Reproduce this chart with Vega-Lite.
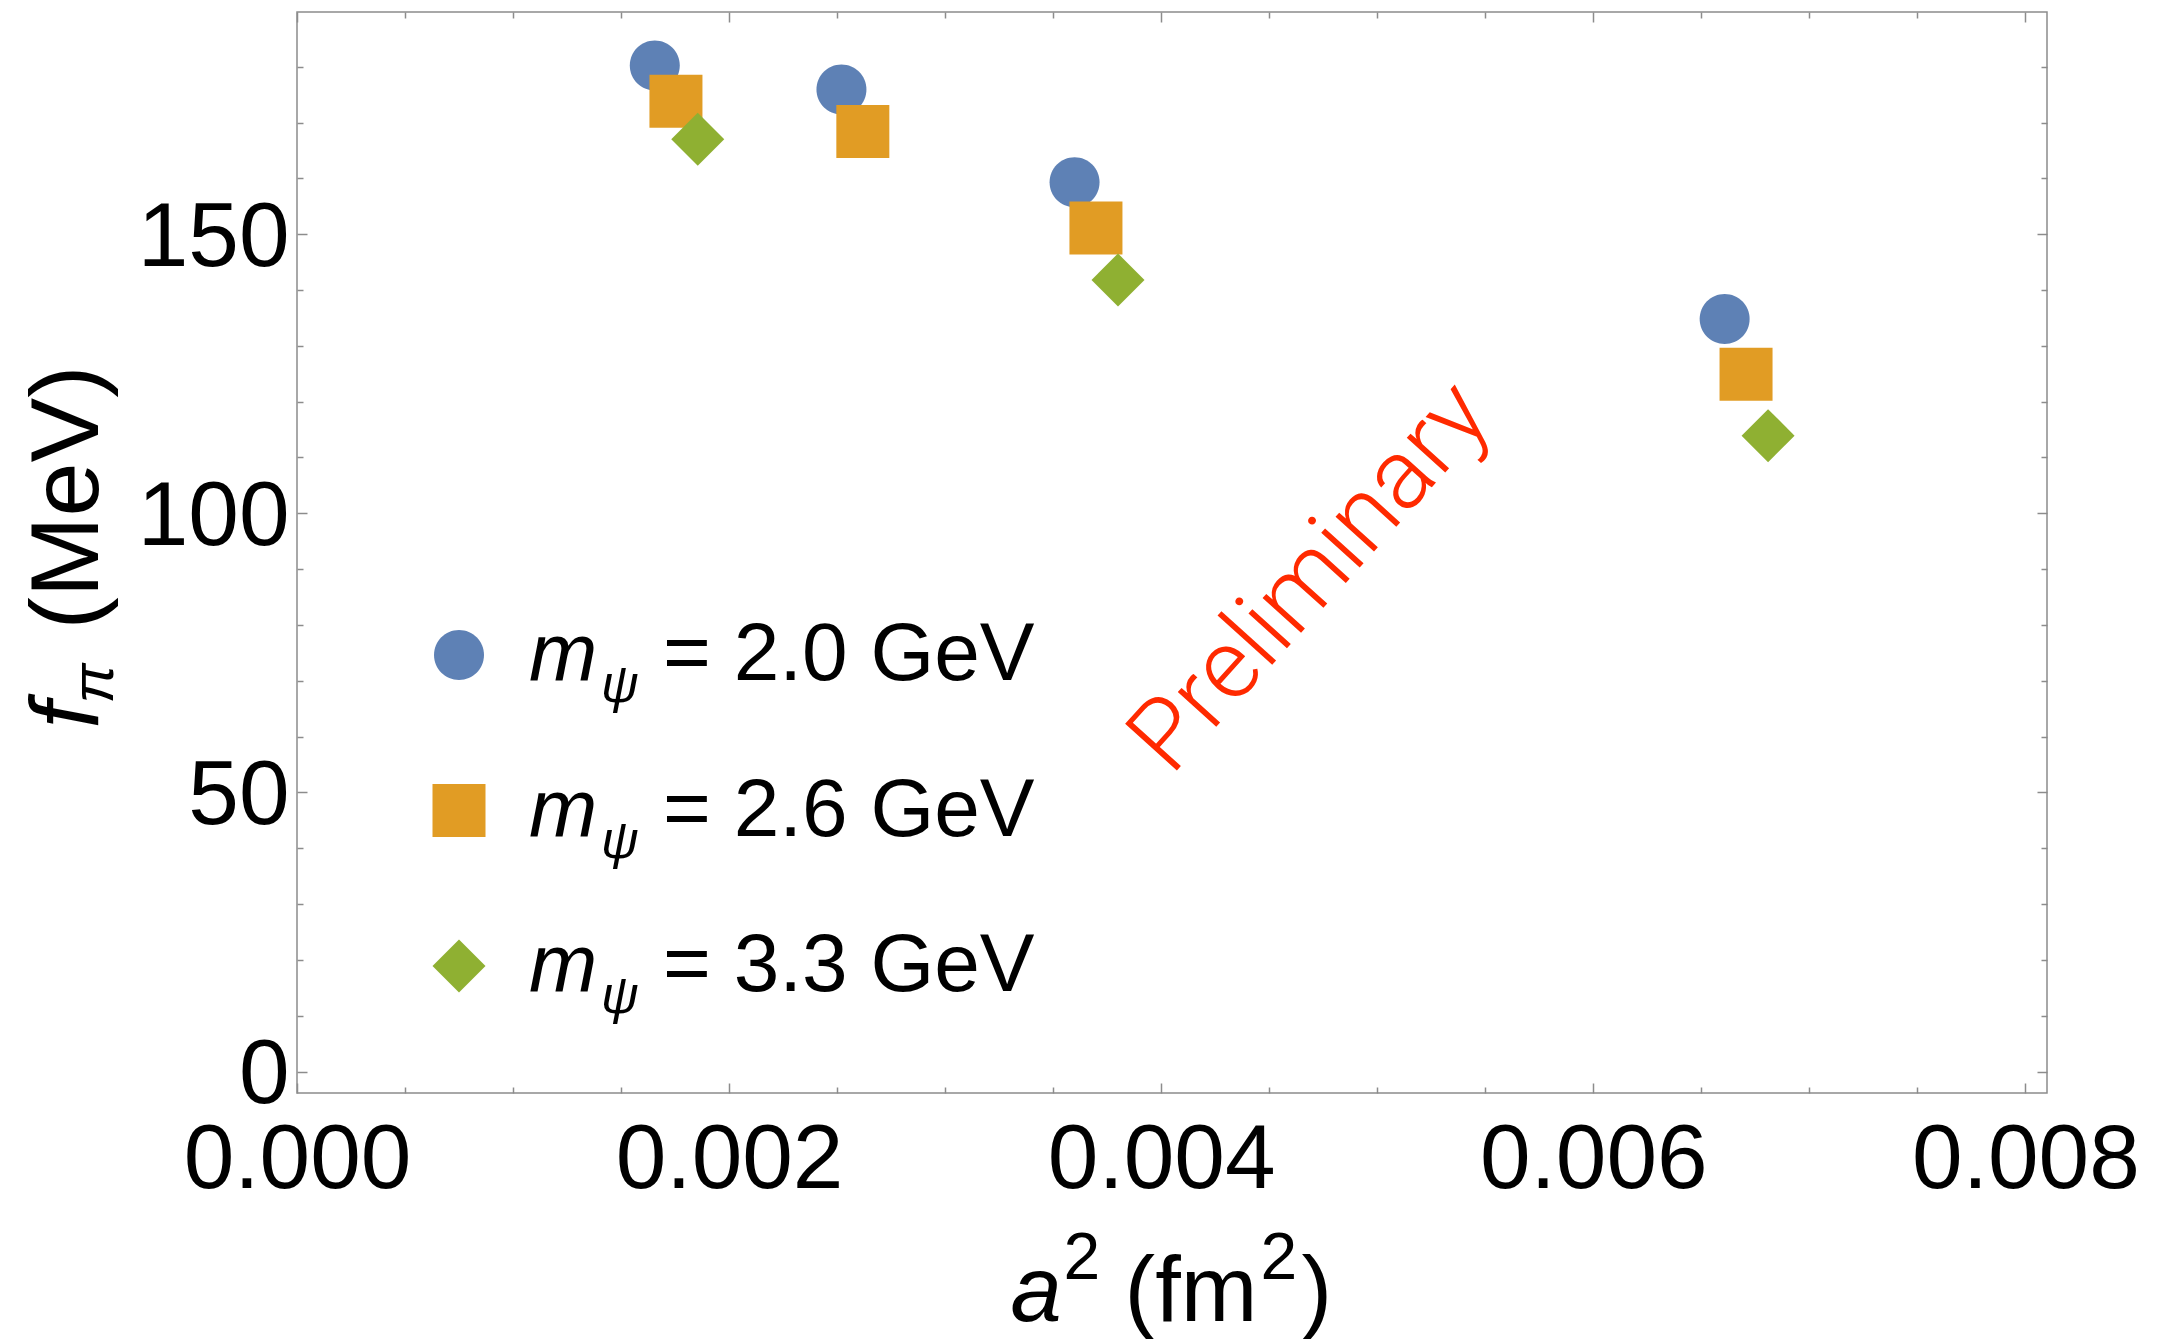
{
  "$schema": "https://vega.github.io/schema/vega-lite/v6.json",
  "width": 1750,
  "height": 1081,
  "autosize": {"type": "none"},
  "padding": {"left": 297, "top": 12, "right": 113, "bottom": 246},
  "background": "white",
  "config": {
    "font": "Liberation Sans",
    "view": {"stroke": "#8c8c8c", "strokeWidth": 1.5},
    "axis": {"grid": false, "domain": false, "tickColor": "#8c8c8c", "tickWidth": 1.5, "labelFont": "Liberation Sans", "labelColor": "#000000", "titleFont": "Liberation Sans", "titleColor": "#000000", "titleFontWeight": "normal", "labelOverlap": false, "labelFlush": false, "labelBound": false, "labelLimit": 0, "titleLimit": 0},
    "legend": {"padding": 0, "offset": 0, "labelFont": "Liberation Sans", "labelColor": "#000000", "labelLimit": 0}
  },
  "data": {"values": [
    {"a2": 0.001656, "fpi": 180.2, "m": "2.0"},
    {"a2": 0.002520, "fpi": 175.9, "m": "2.0"},
    {"a2": 0.003599, "fpi": 159.3, "m": "2.0"},
    {"a2": 0.006608, "fpi": 134.8, "m": "2.0"},
    {"a2": 0.001754, "fpi": 173.8, "m": "2.6"},
    {"a2": 0.002619, "fpi": 168.4, "m": "2.6"},
    {"a2": 0.003698, "fpi": 151.1, "m": "2.6"},
    {"a2": 0.006707, "fpi": 124.9, "m": "2.6"},
    {"a2": 0.001855, "fpi": 167.0, "m": "3.3"},
    {"a2": 0.003800, "fpi": 141.8, "m": "3.3"},
    {"a2": 0.006809, "fpi": 113.9, "m": "3.3"}
  ]},
  "resolve": {"axis": {"x": "independent", "y": "independent"}},
  "layer": [
    {
      "mark": {"type": "point", "filled": true, "opacity": 1, "size": 2809, "strokeWidth": 0},
      "encoding": {
        "x": {"field": "a2", "type": "quantitative", "scale": {"domain": [0, 0.0081], "nice": false, "zero": false},
          "axis": {"orient": "bottom", "values": [0, 0.0005, 0.001, 0.0015, 0.002, 0.0025, 0.003, 0.0035, 0.004, 0.0045, 0.005, 0.0055, 0.006, 0.0065, 0.007, 0.0075, 0.008],
            "tickSize": {"condition": {"test": "abs(datum.value*500 - round(datum.value*500)) < 0.001", "value": -10}, "value": -6},
            "labelExpr": "abs(datum.value*500 - round(datum.value*500)) < 0.001 ? format(datum.value, '.3f') : ''",
            "labelFontSize": 91, "labelPadding": 32,
            "title": "a", "titleFontStyle": "italic", "titleFontSize": 92, "titleX": 713, "titleY": 227, "titleAlign": "left", "titleBaseline": "alphabetic", "titleAngle": 0}},
        "y": {"field": "fpi", "type": "quantitative", "scale": {"domain": [-3.85, 189.8], "nice": false, "zero": false},
          "axis": {"orient": "left", "values": [0, 10, 20, 30, 40, 50, 60, 70, 80, 90, 100, 110, 120, 130, 140, 150, 160, 170, 180],
            "tickSize": {"condition": {"test": "datum.value % 50 === 0", "value": -10}, "value": -6},
            "labelExpr": "datum.value % 50 === 0 ? datum.label : ''",
            "labelFontSize": 91, "labelPadding": 18, "labelOffset": 4,
            "title": "f", "titleFontStyle": "italic", "titleFontSize": 96, "titleAngle": -90, "titleX": -200, "titleY": 716, "titleAlign": "left", "titleBaseline": "alphabetic"}},
        "color": {"field": "m", "type": "nominal", "scale": {"range": ["#5E81B5", "#E19C24", "#8FB032"]},
          "legend": {"orient": "none", "legendX": 121, "legendY": 602, "title": null, "labelExpr": "'= ' + datum.label + ' GeV'", "labelFontSize": 82, "labelOffset": 163, "rowPadding": 73.5, "symbolSize": 2809, "symbolStrokeWidth": 0, "padding": 0}},
        "shape": {"field": "m", "type": "nominal", "scale": {"range": ["M0.943,0A0.943,0.943,0,1,1,-0.943,0A0.943,0.943,0,1,1,0.943,0Z", "square", "diamond"]},
          "legend": {"orient": "none", "legendX": 121, "legendY": 602, "title": null, "labelExpr": "'= ' + datum.label + ' GeV'", "labelFontSize": 82, "labelOffset": 163, "rowPadding": 73.5, "symbolSize": 2809, "symbolStrokeWidth": 0, "padding": 0}}
      }
    },
    {
      "mark": {"type": "point", "opacity": 0},
      "encoding": {
        "x": {"field": "a2", "type": "quantitative",
          "axis": {"orient": "top", "values": [0, 0.0005, 0.001, 0.0015, 0.002, 0.0025, 0.003, 0.0035, 0.004, 0.0045, 0.005, 0.0055, 0.006, 0.0065, 0.007, 0.0075, 0.008],
            "tickSize": {"condition": {"test": "abs(datum.value*500 - round(datum.value*500)) < 0.001", "value": -10}, "value": -6},
            "labels": false, "title": null}},
        "y": {"field": "fpi", "type": "quantitative",
          "axis": {"orient": "right", "values": [0, 10, 20, 30, 40, 50, 60, 70, 80, 90, 100, 110, 120, 130, 140, 150, 160, 170, 180],
            "tickSize": {"condition": {"test": "datum.value % 50 === 0", "value": -10}, "value": -6},
            "labels": false, "title": null}}
      }
    },
    {
      "mark": {"type": "point", "opacity": 0},
      "encoding": {
        "x": {"field": "a2", "type": "quantitative",
          "axis": {"orient": "bottom", "ticks": false, "labels": false, "title": "2", "titleFontSize": 66, "titleX": 766, "titleY": 185, "titleAlign": "left", "titleBaseline": "alphabetic", "titleAngle": 0}},
        "y": {"field": "fpi", "type": "quantitative",
          "axis": {"orient": "left", "ticks": false, "labels": false, "title": "π", "titleFontStyle": "italic", "titleFontSize": 60, "titleAngle": -90, "titleX": -185, "titleY": 691, "titleAlign": "left", "titleBaseline": "alphabetic"}},
        "strokeDash": {"field": "m", "type": "nominal", "scale": {"domain": ["2.0", "2.6", "3.3"], "range": [[1, 0], [1, 0], [1, 0]]},
          "legend": {"orient": "none", "legendX": 150, "legendY": 602, "title": null, "labelExpr": "'m'", "labelFontSize": 82, "labelFontStyle": "italic", "labelOffset": 0, "rowPadding": 73.5, "symbolSize": 1, "symbolOpacity": 0, "padding": 0}}
      }
    },
    {
      "mark": {"type": "point", "opacity": 0},
      "encoding": {
        "x": {"field": "a2", "type": "quantitative",
          "axis": {"orient": "bottom", "ticks": false, "labels": false, "title": "(fm", "titleFontSize": 92, "titleX": 827, "titleY": 227, "titleAlign": "left", "titleBaseline": "alphabetic", "titleAngle": 0}},
        "y": {"field": "fpi", "type": "quantitative",
          "axis": {"orient": "left", "ticks": false, "labels": false, "title": "(MeV)", "titleFontSize": 97, "titleAngle": -90, "titleX": -200, "titleY": 617, "titleAlign": "left", "titleBaseline": "alphabetic"}},
        "stroke": {"field": "m", "type": "nominal", "sort": {"field": "fpi", "op": "max", "order": "descending"}, "scale": {"range": ["#ffffff", "#ffffff", "#ffffff"]},
          "legend": {"orient": "none", "legendX": 252, "legendY": 648, "title": null, "labelExpr": "'ψ'", "labelFontSize": 52, "labelFontStyle": "italic", "labelOffset": 0, "rowPadding": 103.5, "symbolSize": 1, "symbolOpacity": 0, "padding": 0}}
      }
    },
    {
      "mark": {"type": "point", "opacity": 0},
      "encoding": {
        "x": {"field": "a2", "type": "quantitative",
          "axis": {"orient": "bottom", "ticks": false, "labels": false, "title": "2", "titleFontSize": 66, "titleX": 963, "titleY": 185, "titleAlign": "left", "titleBaseline": "alphabetic", "titleAngle": 0}},
        "y": {"field": "fpi", "type": "quantitative", "axis": null}
      }
    },
    {
      "mark": {"type": "point", "opacity": 0},
      "encoding": {
        "x": {"field": "a2", "type": "quantitative",
          "axis": {"orient": "bottom", "ticks": false, "labels": false, "title": ")", "titleFontSize": 92, "titleX": 1004, "titleY": 227, "titleAlign": "left", "titleBaseline": "alphabetic", "titleAngle": 0}},
        "y": {"field": "fpi", "type": "quantitative", "axis": null}
      }
    },
    {
      "data": {"values": [{"label": "Preliminary"}]},
      "mark": {"type": "text", "angle": -48, "fontSize": 98, "font": "Roboto", "fontWeight": 300, "color": "#ff2a00", "align": "center", "baseline": "alphabetic"},
      "encoding": {
        "text": {"field": "label", "type": "nominal"},
        "x": {"datum": 0.004793, "type": "quantitative", "axis": null},
        "y": {"datum": 84.9, "type": "quantitative", "axis": null}
      }
    }
  ]
}
